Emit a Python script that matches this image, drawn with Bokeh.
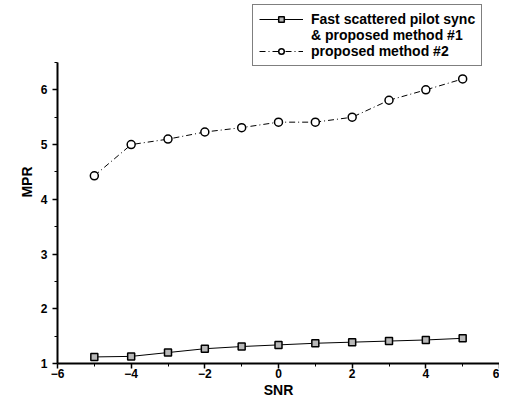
from bokeh.plotting import figure
from bokeh.models import Legend, LegendItem, Range1d, FixedTicker
from bokeh.embed import file_html
from bokeh.resources import INLINE

snr = [-5, -4, -3, -2, -1, 0, 1, 2, 3, 4, 5]
mpr_method1 = [1.12, 1.13, 1.20, 1.27, 1.31, 1.34, 1.37, 1.39, 1.41, 1.43, 1.46]
mpr_method2 = [4.43, 5.00, 5.10, 5.23, 5.31, 5.41, 5.41, 5.50, 5.81, 6.00, 6.20]
label1a = "Fast scattered pilot sync"
label1b = "& proposed method #1"
label2 = "proposed method #2"
x_ticks = [-6, -4, -2, 0, 2, 4, 6]
y_ticks = [1, 2, 3, 4, 5, 6]

FONT = "Liberation Sans"

p = figure(width=499, height=400, output_backend="svg", toolbar_location=None,
           x_range=Range1d(-6, 6), y_range=Range1d(1, 7.633),
           min_border_left=57, min_border_right=0, min_border_top=0, min_border_bottom=37)
p.outline_line_color = None
p.xgrid.visible = False
p.ygrid.visible = False
p.background_fill_color = "white"

for ax in (p.xaxis[0], p.yaxis[0]):
    ax.axis_line_width = 2
    ax.axis_line_color = "black"
    ax.major_tick_line_width = 1.5
    ax.minor_tick_line_width = 1
    ax.major_tick_out = 5
    ax.major_tick_in = 0
    ax.minor_tick_out = 3
    ax.minor_tick_in = 0
    ax.major_label_text_font = FONT
    ax.major_label_text_font_style = "bold"
    ax.major_label_text_font_size = "12px"
    ax.major_label_text_color = "black"
    ax.axis_label_text_font = FONT
    ax.axis_label_text_font_style = "bold"
    ax.axis_label_text_font_size = "14px"
    ax.axis_label_text_color = "black"

p.xaxis.ticker = FixedTicker(ticks=x_ticks, minor_ticks=[-5, -3, -1, 1, 3, 5])
p.yaxis.ticker = FixedTicker(ticks=y_ticks, minor_ticks=[1.5, 2.5, 3.5, 4.5, 5.5, 6.5])
p.yaxis.bounds = (1, 6.5)
p.xaxis.axis_label = "SNR"
p.yaxis.axis_label = "MPR"
p.xaxis.major_label_standoff = 0
p.yaxis.major_label_standoff = 5
p.xaxis.axis_label_standoff = 1
p.yaxis.axis_label_standoff = 3

l1 = p.line(snr, mpr_method1, line_color="black", line_width=1)
s1 = p.scatter(snr, mpr_method1, marker="square", size=7, fill_color="#b8b8b8",
               line_color="black", line_width=1.5)
l2 = p.line(snr, mpr_method2, line_color="black", line_width=1, line_dash="6 3 1 3")
s2 = p.scatter(snr, mpr_method2, marker="circle", size=8, fill_color="white",
               line_color="black", line_width=1.5)
dummy = p.line([0], [0], line_alpha=0)

legend = Legend(items=[
    LegendItem(label=label1a, renderers=[l1, s1]),
    LegendItem(label=label1b, renderers=[dummy]),
    LegendItem(label=label2, renderers=[l2, s2]),
], location=(195, 297))
legend.label_text_font = FONT
legend.label_text_font_style = "bold"
legend.label_text_font_size = "14px"
legend.label_text_color = "black"
legend.label_height = 14
legend.glyph_height = 14
legend.glyph_width = 44
legend.label_standoff = 8
legend.spacing = 0
legend.padding = 6
legend.margin = 0
legend.border_line_color = "black"
legend.border_line_width = 1.5
legend.background_fill_alpha = 1
p.add_layout(legend, "center")

open("out.html", "w").write(file_html(p, INLINE))
